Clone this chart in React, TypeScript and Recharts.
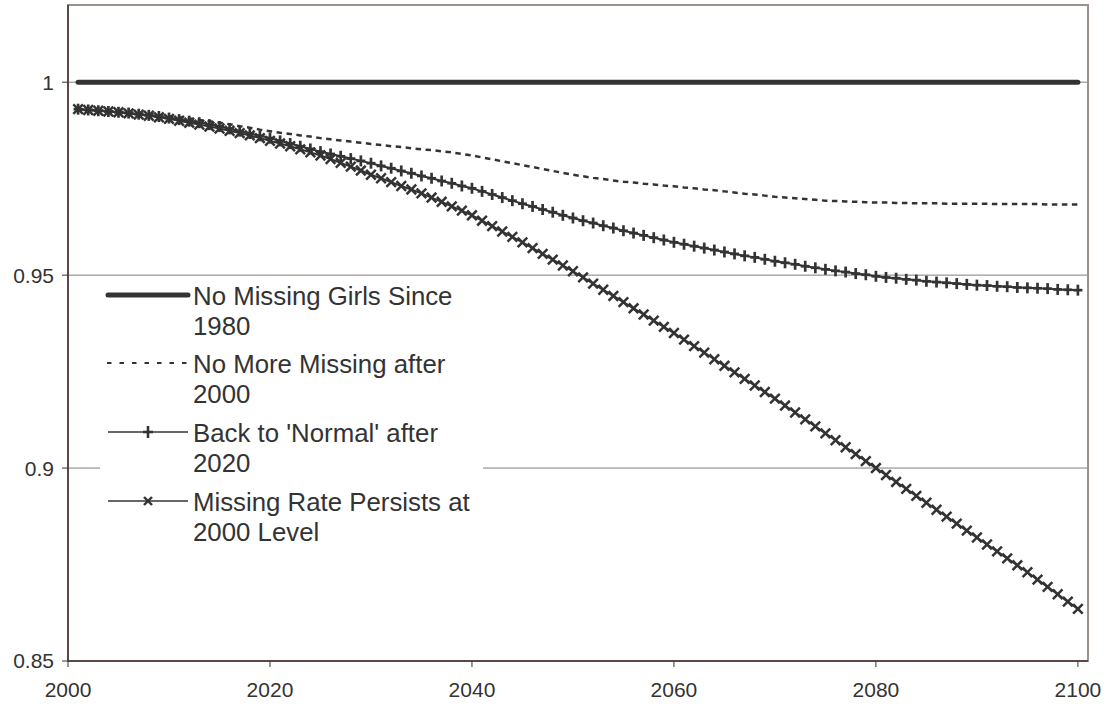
import React from 'react';
import { LineChart, Line, XAxis, YAxis, CartesianGrid, ReferenceArea } from 'recharts';

const years = [
  2001, 2002, 2003, 2004, 2005, 2006, 2007, 2008, 2009, 2010,
  2011, 2012, 2013, 2014, 2015, 2016, 2017, 2018, 2019, 2020,
  2021, 2022, 2023, 2024, 2025, 2026, 2027, 2028, 2029, 2030,
  2031, 2032, 2033, 2034, 2035, 2036, 2037, 2038, 2039, 2040,
  2041, 2042, 2043, 2044, 2045, 2046, 2047, 2048, 2049, 2050,
  2051, 2052, 2053, 2054, 2055, 2056, 2057, 2058, 2059, 2060,
  2061, 2062, 2063, 2064, 2065, 2066, 2067, 2068, 2069, 2070,
  2071, 2072, 2073, 2074, 2075, 2076, 2077, 2078, 2079, 2080,
  2081, 2082, 2083, 2084, 2085, 2086, 2087, 2088, 2089, 2090,
  2091, 2092, 2093, 2094, 2095, 2096, 2097, 2098, 2099, 2100,
];

const noMissingSince1980 = [
  1, 1, 1, 1, 1, 1, 1, 1, 1, 1,
  1, 1, 1, 1, 1, 1, 1, 1, 1, 1,
  1, 1, 1, 1, 1, 1, 1, 1, 1, 1,
  1, 1, 1, 1, 1, 1, 1, 1, 1, 1,
  1, 1, 1, 1, 1, 1, 1, 1, 1, 1,
  1, 1, 1, 1, 1, 1, 1, 1, 1, 1,
  1, 1, 1, 1, 1, 1, 1, 1, 1, 1,
  1, 1, 1, 1, 1, 1, 1, 1, 1, 1,
  1, 1, 1, 1, 1, 1, 1, 1, 1, 1,
  1, 1, 1, 1, 1, 1, 1, 1, 1, 1,
];

const noMoreMissingAfter2000 = [
  0.9930, 0.9929, 0.9927, 0.9926, 0.9924, 0.9922, 0.9920, 0.9918, 0.9915, 0.9912,
  0.9909, 0.9906, 0.9902, 0.9899, 0.9895, 0.9891, 0.9886, 0.9882, 0.9877, 0.9873,
  0.9869, 0.9866, 0.9862, 0.9859, 0.9855, 0.9852, 0.9849, 0.9846, 0.9843, 0.9840,
  0.9837, 0.9834, 0.9832, 0.9829, 0.9826, 0.9824, 0.9821, 0.9818, 0.9814, 0.9810,
  0.9805, 0.9800, 0.9795, 0.9790, 0.9785, 0.9780, 0.9775, 0.9770, 0.9765, 0.9760,
  0.9756, 0.9752, 0.9749, 0.9745, 0.9742, 0.9740, 0.9737, 0.9735, 0.9732, 0.9730,
  0.9727, 0.9725, 0.9722, 0.9720, 0.9717, 0.9714, 0.9711, 0.9709, 0.9706, 0.9703,
  0.9701, 0.9699, 0.9697, 0.9695, 0.9693, 0.9692, 0.9691, 0.9690, 0.9689, 0.9688,
  0.9688, 0.9687, 0.9687, 0.9686, 0.9686, 0.9686, 0.9685, 0.9685, 0.9685, 0.9685,
  0.9685, 0.9684, 0.9684, 0.9684, 0.9684, 0.9684, 0.9683, 0.9683, 0.9683, 0.9683,
];

const backToNormalAfter2020 = [
  0.9930, 0.9928, 0.9926, 0.9924, 0.9922, 0.9920, 0.9917, 0.9914, 0.9911, 0.9907,
  0.9903, 0.9899, 0.9895, 0.9890, 0.9885, 0.9879, 0.9873, 0.9867, 0.9861, 0.9855,
  0.9848, 0.9841, 0.9834, 0.9827, 0.9820, 0.9814, 0.9808, 0.9802, 0.9796, 0.9790,
  0.9783, 0.9777, 0.9770, 0.9764, 0.9757, 0.9751, 0.9744, 0.9738, 0.9731, 0.9725,
  0.9717, 0.9709, 0.9701, 0.9693, 0.9685, 0.9678, 0.9670, 0.9663, 0.9655, 0.9648,
  0.9641, 0.9635, 0.9628, 0.9622, 0.9615, 0.9609, 0.9603, 0.9597, 0.9591, 0.9585,
  0.9580, 0.9575, 0.9570, 0.9565, 0.9560, 0.9555, 0.9550, 0.9546, 0.9541, 0.9536,
  0.9532, 0.9528, 0.9523, 0.9519, 0.9515, 0.9511, 0.9508, 0.9504, 0.9501, 0.9497,
  0.9494, 0.9492, 0.9489, 0.9487, 0.9484, 0.9482, 0.9480, 0.9478, 0.9476, 0.9474,
  0.9473, 0.9471, 0.9470, 0.9468, 0.9467, 0.9466, 0.9465, 0.9463, 0.9462, 0.9461,
];

const missingRatePersists = [
  0.9930, 0.9928, 0.9926, 0.9924, 0.9922, 0.9919, 0.9916, 0.9913, 0.9909, 0.9905,
  0.9900, 0.9895, 0.9890, 0.9885, 0.9880, 0.9874, 0.9868, 0.9862, 0.9855, 0.9848,
  0.9841, 0.9834, 0.9826, 0.9818, 0.9810, 0.9801, 0.9791, 0.9781, 0.9771, 0.9760,
  0.9751, 0.9741, 0.9731, 0.9722, 0.9712, 0.9701, 0.9690, 0.9678, 0.9667, 0.9655,
  0.9641, 0.9627, 0.9613, 0.9599, 0.9585, 0.9570, 0.9555, 0.9540, 0.9525, 0.9510,
  0.9494, 0.9478, 0.9462, 0.9446, 0.9430, 0.9414, 0.9398, 0.9382, 0.9366, 0.9350,
  0.9333, 0.9316, 0.9299, 0.9282, 0.9265, 0.9248, 0.9231, 0.9214, 0.9197, 0.9180,
  0.9162, 0.9144, 0.9126, 0.9108, 0.9090, 0.9072, 0.9054, 0.9036, 0.9018, 0.9000,
  0.8982, 0.8964, 0.8946, 0.8928, 0.8910, 0.8892, 0.8874, 0.8856, 0.8838, 0.8820,
  0.8802, 0.8784, 0.8766, 0.8748, 0.8730, 0.8711, 0.8692, 0.8673, 0.8654, 0.8635,
];

const seriesNames = [
  'No Missing Girls Since 1980',
  'No More Missing after 2000',
  "Back to 'Normal' after 2020",
  'Missing Rate Persists at 2000 Level',
];

const xTicks = [2000, 2020, 2040, 2060, 2080, 2100];
const yTicks = [0.85, 0.9, 0.95, 1];

const data = years.map((year, i) => ({
  year,
  s1: noMissingSince1980[i],
  s2: noMoreMissingAfter2000[i],
  s3: backToNormalAfter2020[i],
  s4: missingRatePersists[i],
}));

const INK = '#333333';
const FONT = '"Liberation Sans", Arial, sans-serif';

const PlusDot = (props: any) => {
  const { cx, cy, index } = props;
  if (cx == null || cy == null) return <g key={`p${index}`} />;
  return (
    <g key={`p${index}`}>
      <line x1={cx - 4.5} y1={cy} x2={cx + 4.5} y2={cy} stroke={INK} strokeWidth={2.7} />
      <line x1={cx} y1={cy - 5.5} x2={cx} y2={cy + 5.5} stroke={INK} strokeWidth={2.7} />
    </g>
  );
};

const CrossDot = (props: any) => {
  const { cx, cy, index } = props;
  if (cx == null || cy == null) return <g key={`x${index}`} />;
  const r = 4.8;
  return (
    <g key={`x${index}`}>
      <line x1={cx - r} y1={cy - r} x2={cx + r} y2={cy + r} stroke={INK} strokeWidth={2.5} />
      <line x1={cx - r} y1={cy + r} x2={cx + r} y2={cy - r} stroke={INK} strokeWidth={2.5} />
    </g>
  );
};

const LegendSample = ({ i }: { i: number }) => {
  const y = 14;
  return (
    <svg width={84} height={28} style={{ position: 'absolute', left: 0, top: 0, overflow: 'visible' }}>
      {i === 0 && <line x1={2} y1={y} x2={82} y2={y} stroke={INK} strokeWidth={5} strokeLinecap="round" />}
      {i === 1 && <line x1={1} y1={y} x2={82} y2={y} stroke={INK} strokeWidth={2} strokeDasharray="4.5 8" />}
      {i === 2 && (
        <g>
          <line x1={2} y1={y} x2={82} y2={y} stroke={INK} strokeWidth={1.4} />
          <line x1={37} y1={y} x2={47} y2={y} stroke={INK} strokeWidth={2.6} />
          <line x1={42} y1={y - 6} x2={42} y2={y + 6} stroke={INK} strokeWidth={2.6} />
        </g>
      )}
      {i === 3 && (
        <g>
          <line x1={2} y1={y} x2={82} y2={y} stroke={INK} strokeWidth={1.4} />
          <line x1={38} y1={y - 4} x2={46} y2={y + 4} stroke={INK} strokeWidth={2.4} />
          <line x1={38} y1={y + 4} x2={46} y2={y - 4} stroke={INK} strokeWidth={2.4} />
        </g>
      )}
    </svg>
  );
};

export default function App() {
  return (
    <div style={{ position: 'absolute', left: 0, top: 0, width: 1108, height: 706, background: '#fff', fontFamily: FONT }}>
      <LineChart
        width={1108}
        height={706}
        data={data}
        margin={{ top: 5, right: 20, bottom: 15, left: 8 }}
      >
        <CartesianGrid horizontal vertical={false} stroke="#7f7f7f" strokeWidth={1} />
        <ReferenceArea
          x1={2000}
          x2={2101}
          y1={0.85}
          y2={1.02}
          fill="none"
          stroke="#9e908c"
          strokeWidth={2}
          ifOverflow="visible"
        />
        <XAxis
          dataKey="year"
          type="number"
          domain={[2000, 2101]}
          ticks={xTicks}
          allowDataOverflow
          height={30}
          tickSize={6}
          tickMargin={15}
          axisLine={{ stroke: '#5a4a47', strokeWidth: 2 }}
          tickLine={{ stroke: '#333' }}
          tick={{ fill: INK, fontSize: 21, fontFamily: FONT }}
        />
        <YAxis
          type="number"
          domain={[0.85, 1.02]}
          ticks={yTicks}
          allowDataOverflow
          width={60}
          tickSize={6}
          tickMargin={8}
          axisLine={{ stroke: '#5a4a47', strokeWidth: 2 }}
          tickLine={{ stroke: '#333' }}
          tick={{ fill: INK, fontSize: 21, fontFamily: FONT }}
        />
        <Line
          dataKey="s1"
          name={seriesNames[0]}
          stroke={INK}
          strokeWidth={5}
          strokeLinecap="round"
          dot={false}
          activeDot={false}
          isAnimationActive={false}
        />
        <Line
          dataKey="s2"
          name={seriesNames[1]}
          stroke={INK}
          strokeWidth={2.5}
          strokeDasharray="5.5 4.5"
          dot={false}
          activeDot={false}
          isAnimationActive={false}
        />
        <Line
          dataKey="s3"
          name={seriesNames[2]}
          stroke={INK}
          strokeWidth={2}
          dot={(p: any) => <PlusDot key={`pd${p.index}`} {...p} />}
          activeDot={false}
          isAnimationActive={false}
        />
        <Line
          dataKey="s4"
          name={seriesNames[3]}
          stroke={INK}
          strokeWidth={2}
          dot={(p: any) => <CrossDot key={`xd${p.index}`} {...p} />}
          activeDot={false}
          isAnimationActive={false}
        />
      </LineChart>
      <div
        style={{
          position: 'absolute',
          left: 100,
          top: 277,
          width: 383,
          height: 270,
          background: '#fff',
        }}
      >
        {seriesNames.map((name, i) => (
          <div
            key={name}
            style={{
              position: 'absolute',
              left: 0,
              top: 3.5 + i * 68.7,
              width: 383,
              height: 60,
            }}
          >
            <div style={{ position: 'absolute', left: 6, top: 0 }}>
              <LegendSample i={i} />
            </div>
            <div
              style={{
                position: 'absolute',
                left: 93,
                top: 0,
                width: 292,
                fontSize: 25.8,
                lineHeight: '30px',
                color: INK,
                fontFamily: FONT,
              }}
            >
              {name}
            </div>
          </div>
        ))}
      </div>
    </div>
  );
}
